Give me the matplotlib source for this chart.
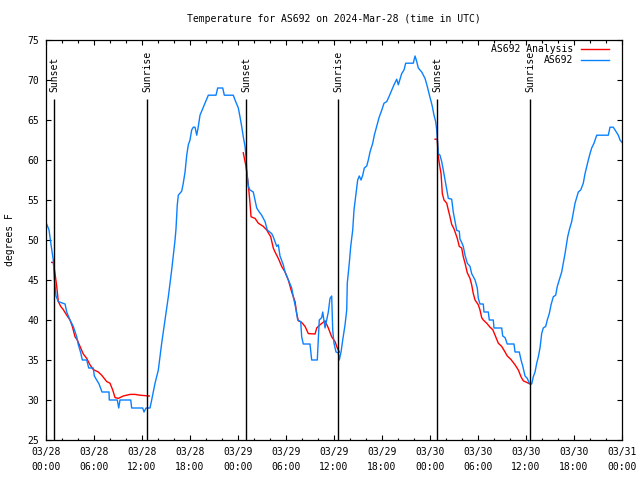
import numpy as np
import matplotlib
matplotlib.use("Agg")
import matplotlib.pyplot as plt
from datetime import datetime, timedelta

plt.rcParams['font.family'] = ['DejaVu Sans Mono']
plt.rcParams['font.size'] = 7

start = datetime(2024, 3, 28)

# hours since 03/28 00:00 UTC, temperature in F
obs_hours = [0.00, 0.38, 0.63, 0.91, 1.06, 1.25, 1.54, 2.38, 2.59, 3.00, 3.41, 3.84, 4.04, 4.34,
             4.54, 5.09, 5.34, 5.91, 6.04, 6.63, 7.00, 7.88, 7.91, 8.91, 9.09, 9.25, 10.59, 10.71,
             12.09, 12.25, 12.50, 13.00, 13.21, 13.63, 14.04, 14.46, 14.88, 15.29, 15.71, 16.13,
             16.25, 16.41, 16.54, 16.96, 17.16, 17.38, 17.59, 17.79, 18.00, 18.21, 18.41, 18.63,
             18.84, 19.04, 19.25, 19.46, 19.66, 19.96, 20.29, 21.25, 21.46, 22.09, 22.29, 23.41,
             23.63, 24.04, 24.25, 24.46, 24.66, 24.88, 25.00, 25.09, 25.29, 25.50, 25.91, 26.13,
             26.34, 26.66, 26.96, 27.38, 27.66, 28.21, 28.41, 28.84, 29.04, 29.25, 29.66, 29.88,
             30.29, 30.71, 30.91, 31.13, 31.34, 31.46, 31.84, 31.96, 32.16, 33.00, 33.21, 33.91,
             34.16, 34.46, 34.59, 34.88, 35.09, 35.29, 35.50, 35.71, 35.84, 36.00, 36.25, 36.54,
             36.66, 36.88, 37.09, 37.38, 37.59, 37.66, 37.91, 38.09, 38.34, 38.50, 38.75, 38.96,
             39.16, 39.38, 39.59, 39.79, 40.09, 40.29, 40.50, 40.84, 41.04, 41.34, 41.63, 41.96,
             42.25, 42.59, 42.91, 43.21, 43.50, 43.84, 44.04, 44.25, 44.46, 44.75, 44.96, 45.91,
             46.13, 46.34, 46.54, 46.96, 47.38, 47.66, 47.88, 48.09, 48.29, 48.50, 48.71, 48.84,
             49.04, 49.25, 49.46, 49.66, 49.88, 50.09, 50.29, 50.71, 50.91, 51.13, 51.34, 51.66,
             51.75, 51.96, 52.16, 52.38, 52.66, 53.00, 53.21, 53.63, 53.91, 54.04, 54.25, 54.66,
             54.75, 55.29, 55.41, 55.91, 56.00, 56.96, 57.09, 57.38, 57.66, 58.50, 58.63, 59.16,
             59.38, 59.59, 59.88, 60.16, 60.41, 60.71, 60.91, 61.13, 61.34, 61.54, 61.75, 61.96,
             62.16, 62.46, 62.66, 62.91, 63.13, 63.41, 63.71, 63.91, 64.16, 64.46, 64.66, 64.88,
             65.09, 65.21, 65.41, 65.71, 66.13, 66.54, 66.84, 67.16, 67.38, 67.59, 67.79, 68.00,
             68.21, 68.50, 68.84, 70.29, 70.50, 70.91, 71.13, 71.54, 71.75, 72.00]
obs_temp = [52.2, 51.25, 49.4, 47.5, 45.0, 43.0, 42.3, 42.0, 41.0, 40.0, 39.2, 37.9, 36.9, 35.9,
            35.0, 35.0, 34.0, 34.0, 33.0, 32.0, 31.0, 31.0, 30.0, 30.0, 29.0, 30.0, 30.0, 29.0,
            29.0, 28.5, 29.0, 29.0, 30.0, 32.1, 33.75, 37.1, 40.0, 42.9, 46.25, 50.0,
            51.4, 54.4, 55.6, 56.1, 57.1, 58.5, 60.6, 61.9, 62.5, 63.75, 64.1, 64.1,
            63.1, 64.2, 65.6, 66.1, 66.6, 67.3, 68.1, 68.1, 69.0, 69.0, 68.1, 68.1,
            67.5, 66.5, 65.4, 64.2, 62.9, 61.7, 60.4, 58.75, 56.7, 56.25, 56.0, 55.0,
            54.0, 53.5, 53.1, 52.3, 51.25, 50.8, 50.4, 49.2, 49.4, 48.0, 46.9, 46.0,
            45.0, 44.0, 42.9, 41.9, 40.8, 40.0, 39.8, 37.9, 37.0, 37.0, 35.0, 35.0,
            40.0, 40.3, 41.0, 39.0, 40.0, 41.0, 42.7, 43.0, 38.75, 37.1, 36.0, 35.9,
            35.0, 36.0, 37.5, 39.4, 41.25, 44.6, 47.1, 49.2, 51.25, 53.75, 55.8, 57.5,
            58.0, 57.5, 58.1, 59.0, 59.25, 60.0, 61.0, 62.1, 63.1, 64.2, 65.3, 66.2,
            67.1, 67.3, 68.0, 68.7, 69.4, 70.1, 69.4, 70.1, 70.8, 71.25, 72.1, 72.1,
            73.0, 72.3, 71.5, 71.0, 70.2, 69.2, 68.3, 67.5, 66.7, 65.6, 64.8, 63.75,
            60.8, 60.6, 59.8, 58.75, 57.5, 56.25, 55.2, 55.1, 53.5, 52.3, 51.2, 51.1,
            50.1, 49.7, 49.2, 48.1, 47.1, 46.7, 45.8, 45.0, 44.0, 42.7, 42.0, 42.0,
            41.0, 41.0, 40.0, 40.0, 39.0, 39.0, 38.0, 37.8, 37.0, 37.0, 36.0, 36.0,
            35.0, 34.25, 33.0, 32.7, 32.1, 32.0, 32.9, 33.5, 34.6, 35.4, 36.5, 38.3,
            39.0, 39.2, 40.0, 40.8, 41.9, 42.9, 43.1, 44.2, 45.0, 46.0, 47.1, 48.3,
            49.6, 50.4, 51.25, 52.3, 54.6, 56.0, 56.25, 57.1, 58.3, 59.2, 60.0, 60.8,
            61.5, 62.1, 63.1, 63.1, 64.1, 64.1, 63.75, 63.1, 62.5, 62.2]

ana1_hours = [0.71, 0.91, 1.13, 1.34, 1.54, 1.84, 2.16, 2.59, 3.00, 3.29, 3.63, 3.91, 4.25, 4.66,
              5.09, 5.50, 5.91, 6.54, 6.96, 7.59, 8.00, 8.34, 8.63, 9.04, 9.66, 10.09, 10.50,
              11.13, 11.75, 12.91]
ana1_temp = [47.2, 47.2, 45.8, 44.2, 42.3, 41.7, 41.3, 40.6, 40.0, 39.2, 37.9, 37.5, 36.7, 35.75,
             35.2, 34.4, 33.8, 33.5, 33.1, 32.3, 32.1, 31.25, 30.3, 30.2, 30.5, 30.6, 30.7,
             30.7, 30.6, 30.5]

ana2_hours = [24.66, 25.00, 25.29, 25.50, 25.63, 26.13, 26.54, 27.16, 27.59, 27.79, 28.09, 28.41,
              28.63, 29.04, 29.46, 29.88, 30.29, 30.71, 31.13, 31.34, 31.54, 31.96, 32.38, 32.79,
              33.63, 33.84, 34.25, 34.88, 35.29, 35.71, 36.13, 36.41, 36.66]
ana2_temp = [60.9, 59.2, 56.9, 54.6, 52.9, 52.7, 52.1, 51.7, 51.25, 50.9, 50.4, 49.0,
             48.5, 47.7, 46.7, 46.0, 45.0, 43.5, 42.3, 40.8, 39.9, 39.7, 39.2, 38.3,
             38.25, 39.0, 39.4, 39.9, 39.0, 37.9, 37.3, 36.5, 36.0]

ana3_hours = [48.63, 48.91, 49.00, 49.16, 49.38, 49.54, 49.75, 50.09, 50.29, 50.50, 50.71, 51.00,
              51.41, 51.66, 51.96, 52.16, 52.38, 52.66, 53.00, 53.21, 53.41, 53.63, 54.04, 54.25,
              54.46, 54.66, 55.09, 55.50, 55.84, 56.13, 56.54, 56.96, 57.38, 57.66, 58.09, 58.63,
              59.04, 59.38, 59.66, 60.09, 60.50]
ana3_temp = [62.6, 62.6, 60.8, 59.6, 58.3, 55.8, 55.0, 54.6, 53.75, 52.9, 51.95, 51.4,
             50.2, 49.2, 49.0, 47.9, 47.1, 45.9, 45.2, 44.4, 43.3, 42.5, 41.9, 41.25,
             40.3, 40.0, 39.6, 39.1, 38.8, 38.1, 37.1, 36.7, 36.0, 35.5, 35.1, 34.4,
             33.75, 32.9, 32.4, 32.2, 32.0]

sun_hours = [1.04, 12.66, 25.0, 36.54, 48.91, 60.54]
sun_labels = ['Sunset', 'Sunrise', 'Sunset', 'Sunrise', 'Sunset', 'Sunrise']

red = '#ff0000'
blue = '#0a80ff'

fig = plt.figure(figsize=(6.4, 4.8), dpi=100)
ax = fig.add_axes([46 / 640, 40 / 480, 576 / 640, 400 / 480])

ax.plot(ana1_hours, ana1_temp, color=red, lw=1, label='AS692 Analysis')
ax.plot(ana2_hours, ana2_temp, color=red, lw=1)
ax.plot(ana3_hours, ana3_temp, color=red, lw=1)
ax.plot(obs_hours, obs_temp, color=blue, lw=1, label='AS692')

ax.vlines(sun_hours, 25, 67.6, color='black', lw=1, zorder=3)
for h, s in zip(sun_hours, sun_labels):
    ax.text(h, 68.5, s, rotation=90, ha='center', va='bottom')

ax.set_xlim(0, 72)
ax.set_ylim(25, 75)
major = np.arange(0, 73, 6)
ax.set_xticks(major)
ax.set_xticklabels([(start + timedelta(hours=int(h))).strftime('%m/%d\n%H:%M') for h in major])
ax.set_xticks(np.arange(0, 73, 2), minor=True)
ax.set_yticks(np.arange(25, 76, 5))
for lbl in ax.get_xticklabels():
    lbl.set_linespacing(1.6)

ax.tick_params(which='both', direction='in', top=True, right=True, width=0.8)
ax.tick_params(which='major', length=3.5)
ax.tick_params(which='minor', length=1.8)
ax.tick_params(axis='x', pad=5)
ax.tick_params(axis='y', pad=5)
for sp in ax.spines.values():
    sp.set_linewidth(0.9)

ax.set_ylabel('degrees F', labelpad=9)
fig.text(334 / 640, 1 - 19 / 480, 'Temperature for AS692 on 2024-Mar-28 (time in UTC)',
         ha='center', va='center')

leg = ax.legend(loc='upper right', bbox_to_anchor=(1 - 13 / 576, 1 - 4 / 400), frameon=False,
                markerfirst=False, handlelength=2.9, handletextpad=0.8, labelspacing=0.15,
                borderpad=0, borderaxespad=0)
for col in leg._legend_handle_box.get_children():
    col.align = 'right'

fig.savefig('out.png', dpi=100)
